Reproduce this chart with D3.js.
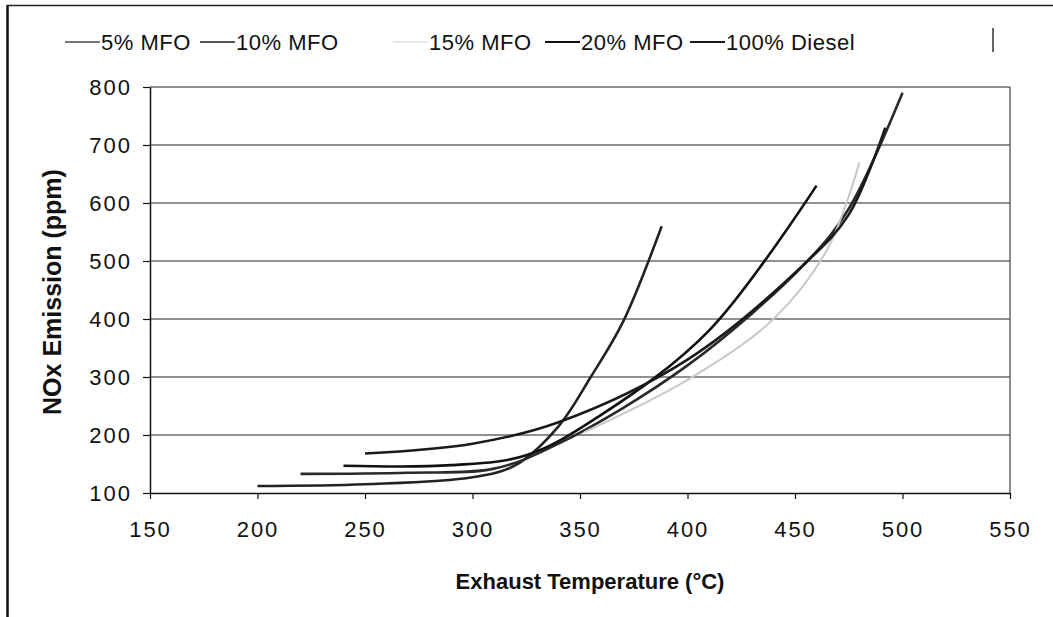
<!DOCTYPE html>
<html><head><meta charset="utf-8">
<script src="https://cdn.jsdelivr.net/npm/d3@7"></script>
<style>
html,body{margin:0;padding:0;background:#fff;}
text{font-family:"Liberation Sans",Arial,sans-serif;fill:#111;}
</style></head>
<body><svg id="c" width="1053" height="617"></svg>
<script>
const seriesNames = ["5% MFO","10% MFO","15% MFO","20% MFO","100% Diesel"];
const seriesColors = ["#222","#2a2a2a","#c8c8c8","#111","#1a1a1a"];
const legendColors = ["#777","#555","#e8e8e8","#111","#1a1a1a"];
const s5  = [[200,112],[250,115],[300,127],[320,148],[340,215],[355,300],[370,395],[388,560]];
const s10 = [[220,133],[270,135],[310,142],[340,185],[400,320],[455,497],[475,590],[500,790]];
const s15 = [[352,205],[400,295],[440,400],[465,520],[480,670]];
const s20 = [[240,147],[290,148],[325,165],[360,235],[410,380],[460,630]];
const s100= [[250,168],[300,185],[340,222],[400,330],[455,497],[475,580],[492,730]];
const seriesData = [s5,s10,s15,s20,s100];
const xTicks = [150,200,250,300,350,400,450,500,550];
const yTicks = [100,200,300,400,500,600,700,800];

const svg = d3.select("#c");
const x = d3.scaleLinear().domain([150,550]).range([150,1010]);
const y = d3.scaleLinear().domain([100,800]).range([493,87]);

// outer frame fragments
svg.append("line").attr("x1",7.5).attr("x2",7.5).attr("y1",5).attr("y2",617).attr("stroke","#111").attr("stroke-width",2.5);
svg.append("line").attr("x1",7).attr("x2",1053).attr("y1",5.5).attr("y2",5.5).attr("stroke","#222").attr("stroke-width",1.5);

// gridlines
svg.append("g").selectAll("line").data(yTicks.filter(d=>d>100)).join("line")
  .attr("x1",x(150)).attr("x2",x(550)).attr("y1",d=>y(d)).attr("y2",d=>y(d))
  .attr("stroke","#222").attr("stroke-width",1.2);
// right border
svg.append("line").attr("x1",x(550)).attr("x2",x(550)).attr("y1",y(800)).attr("y2",y(100)).attr("stroke","#444").attr("stroke-width",1.2);

// axes
const xa = svg.append("g").attr("transform",`translate(0,${y(100)})`)
  .call(d3.axisBottom(x).tickValues(xTicks).tickSize(6).tickSizeOuter(0).tickFormat(d3.format("d")));
const ya = svg.append("g").attr("transform",`translate(${x(150)},0)`)
  .call(d3.axisLeft(y).tickValues(yTicks).tickSize(7).tickSizeOuter(0).tickFormat(d3.format("d")));
[xa,ya].forEach(a=>{a.select(".domain").attr("stroke","#111").attr("stroke-width",1.5);
  a.selectAll(".tick line").attr("stroke","#111").attr("stroke-width",1.2);
  a.selectAll("text").attr("font-size",22).attr("fill","#111").attr("font-family","Liberation Sans, Arial").style("letter-spacing","2px");});
xa.selectAll("text").attr("dy",null).attr("y",44);
ya.selectAll("text").attr("x",-18).attr("dy","0.36em");

// series
const line = d3.line().x(d=>x(d[0])).y(d=>y(d[1])).curve(d3.curveCatmullRom.alpha(0.5));
svg.append("g").selectAll("path").data(seriesData).join("path")
  .attr("d",line).attr("fill","none")
  .attr("stroke",(d,i)=>seriesColors[i]).attr("stroke-width",(d,i)=>i===2?2:2.6);

// legend
const legX = [65,200,393,545,690];
const lg = svg.append("g").selectAll("g").data(seriesNames).join("g")
  .attr("transform",(d,i)=>`translate(${legX[i]},42)`);
lg.append("line").attr("x1",0).attr("x2",35).attr("y1",0).attr("y2",0)
  .attr("stroke",(d,i)=>legendColors[i]).attr("stroke-width",2);
lg.append("text").attr("x",36).attr("y",7.5).attr("font-size",22).style("letter-spacing","0.5px").text(d=>d);
svg.append("line").attr("x1",993).attr("x2",993).attr("y1",28).attr("y2",52).attr("stroke","#333").attr("stroke-width",1.5);

// titles
svg.append("text").attr("x",590).attr("y",589).attr("text-anchor","middle")
  .attr("font-size",22).attr("font-weight","bold").text("Exhaust Temperature (°C)");
svg.append("text").attr("transform","translate(52,292) rotate(-90)").attr("text-anchor","middle")
  .attr("dy","0.35em").attr("font-size",25).attr("font-weight","bold").text("NOx Emission (ppm)");
</script></body></html>
